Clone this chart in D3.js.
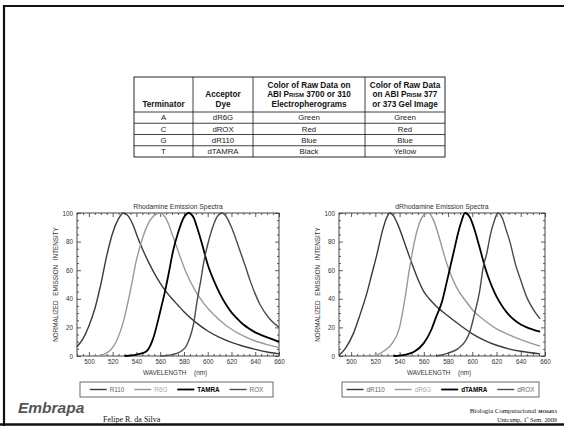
<!DOCTYPE html>
<html lang="pt">
<head>
<meta charset="UTF-8">
<title>Rhodamine / dRhodamine Emission Spectra</title>
<script src="https://d3js.org/d3.v7.min.js"></script>
<style>
  body { margin: 0; background: #fff; }
  svg { display: block; font-family: "Liberation Sans", Arial, sans-serif; }
  .tick text { font-size: 6.3px; fill: #333; }
  .serif { font-family: "Liberation Serif", "Times New Roman", serif; }
</style>
</head>
<body>
<svg id="slide" width="564" height="426"></svg>
<script>
// ---- dados ----
const tableHeader = [
  ["Terminator"],
  ["Acceptor", "Dye"],
  ["Color of Raw Data on", "ABI |Prism| 3700 or 310", "Electropherograms"],
  ["Color of Raw Data", "on ABI |Prism| 377", "or 373 Gel Image"]
];
const tableRows = [
  ["A", "dR6G", "Green", "Green"],
  ["C", "dROX", "Red", "Red"],
  ["G", "dR110", "Blue", "Blue"],
  ["T", "dTAMRA", "Black", "Yellow"]
];

const wavelengthTicks = [500, 520, 540, 560, 580, 600, 620, 640, 660];
const intensityTicks = [0, 20, 40, 60, 80, 100];

// Rhodamine (wavelength nm, normalized intensity)
const r110 = [[490,6.5],[495,12],[500,21],[505,33],[510,50],[515,70],[520,86],[525,96],[529,100],[533,98],[537,92],[541,83],[545,75],[550,66],[555,58],[560,51],[565,45],[570,40],[575,35.5],[580,31],[590,23.5],[600,17.5],[610,13],[620,9.5],[630,6.8],[640,4.6],[650,2.8],[660,1.5]];
const r6g = [[505,0],[512,1],[518,4],[523,10],[529,24],[535,46],[540,67],[545,82],[549,91],[554,97.5],[560,100],[565,96],[571,83],[577,69],[582,58],[590,45],[597,36.5],[605,29],[616,21],[630,14],[640,10.5],[650,8],[660,6]];
const tamra = [[530,0],[540,1],[548,3],[554,12],[560,31],[564,45],[567,57],[571,74],[575,86],[580,97],[584,100],[588,97],[591,90],[595,79],[600,64],[605,53],[610,44],[615,36.5],[620,30.5],[625,26],[630,22],[635,19],[640,16.5],[650,13],[660,10]];
const rox = [[560,0],[570,1],[577,3],[582,7],[585,13],[588,22],[591,38],[594,52],[597,67],[600,78],[605,92],[608,97.5],[612,100],[616,97],[620,90],[627,74],[632,62],[636,52],[644,36],[652,26],[660,20]];

// dRhodamine
const dr110 = [[490,0.5],[495,5],[502,16],[507,28],[513,44],[517,57],[521,70],[526,88],[529,96],[532,100],[535,98],[539,91],[545,77],[550,65],[555,54],[560,45],[565,39.5],[570,35],[580,28],[590,21.5],[600,15.5],[610,11],[620,7.5],[630,5],[640,3.3],[656,1.5]];
const dr6g = [[515,0],[522,1],[528,4],[534,9],[540,20],[544,38],[548,60],[552,79],[556,92],[560,98.5],[564,100],[568,95],[573,82],[577,70],[580,62],[587,48],[595,38],[601,31.5],[610,25],[620,19],[630,15],[640,11.5],[650,8.5],[656,7]];
const dtamra = [[535,0],[545,1],[552,3],[560,9],[566,18],[570,27],[575,38],[579,52],[582,63],[585,74],[588,85],[591,94],[594,100],[598,97],[602,88],[606,76],[612,58],[616,49],[620,41.5],[625,34.5],[630,29],[635,25],[640,22],[645,20],[650,18.5],[656,17]];
const drox = [[570,0],[580,2],[588,5],[594,10],[598,17],[602,30],[606,45],[609,62],[612,72],[615,85],[618,94],[621,100],[625,96],[628,88],[631,80],[636,63],[640,53],[645,41],[650,33],[656,26]];

const svg = d3.select("#slide");

// moldura do slide
svg.append("path")
  .attr("d", "M4,426 V6 H564")
  .attr("fill", "none").attr("stroke", "#111").attr("stroke-width", 2.2);
svg.append("line")
  .attr("x1", 0).attr("x2", 564).attr("y1", 424.5).attr("y2", 424.5)
  .attr("stroke", "#111").attr("stroke-width", 2.5);

// ---- tabela ----
const colEdges = [134, 193, 253, 365, 445];
const tableTop = 77, headerBottom = 112, rowH = 11.25;
const tg = svg.append("g");

tableHeader.forEach((lines, c) => {
  const cx = (colEdges[c] + colEdges[c + 1]) / 2;
  lines.forEach((ln, i) => {
    const t = tg.append("text")
      .attr("x", cx)
      .attr("y", 106.5 - (lines.length - 1 - i) * 9.3)
      .attr("text-anchor", "middle")
      .attr("font-size", 8.2).attr("font-weight", "bold").attr("fill", "#111");
    ln.split("|").forEach((part, k) => {
      const s = t.append("tspan").text(part);
      if (k % 2 === 1) s.style("font-variant", "small-caps");
    });
  });
});

tableRows.forEach((row, r) => {
  const cy = headerBottom + rowH * r + rowH / 2;
  row.forEach((val, c) => {
    tg.append("text")
      .attr("x", (colEdges[c] + colEdges[c + 1]) / 2)
      .attr("y", cy + 2.8)
      .attr("text-anchor", "middle")
      .attr("font-size", 7.8).attr("fill", "#222")
      .text(val);
  });
});

const tableBottom = headerBottom + rowH * tableRows.length;
tg.append("rect")
  .attr("x", colEdges[0]).attr("y", tableTop)
  .attr("width", colEdges[4] - colEdges[0]).attr("height", tableBottom - tableTop)
  .attr("fill", "none").attr("stroke", "#111").attr("stroke-width", 0.9);
colEdges.slice(1, 4).forEach(x => {
  tg.append("line").attr("x1", x).attr("x2", x).attr("y1", tableTop).attr("y2", tableBottom)
    .attr("stroke", "#111").attr("stroke-width", 0.8);
});
d3.range(tableRows.length).forEach(r => {
  const y = headerBottom + rowH * r;
  tg.append("line").attr("x1", colEdges[0]).attr("x2", colEdges[4]).attr("y1", y).attr("y2", y)
    .attr("stroke", "#111").attr("stroke-width", 0.8);
});

// ---- graficos ----
function drawSpectra(cfg) {
  const x = d3.scaleLinear().domain([490, 660]).range([cfg.left, cfg.right]);
  const y = d3.scaleLinear().domain([0, 100]).range([356, 213]);
  const g = svg.append("g");

  const minorX = d3.range(490, 661, 5).filter(v => !wavelengthTicks.includes(v));
  const minorY = d3.range(0, 101, 5).filter(v => !intensityTicks.includes(v));

  const axes = [
    [d3.axisBottom(x).tickValues(wavelengthTicks).tickSize(-4).tickPadding(4), `translate(0,${y(0)})`],
    [d3.axisBottom(x).tickValues(minorX).tickSize(-2).tickFormat(""), `translate(0,${y(0)})`],
    [d3.axisTop(x).tickValues(wavelengthTicks).tickSize(-4).tickFormat(""), `translate(0,${y(100)})`],
    [d3.axisTop(x).tickValues(minorX).tickSize(-2).tickFormat(""), `translate(0,${y(100)})`],
    [d3.axisLeft(y).tickValues(intensityTicks).tickSize(-4).tickPadding(4), `translate(${cfg.left},0)`],
    [d3.axisLeft(y).tickValues(minorY).tickSize(-2).tickFormat(""), `translate(${cfg.left},0)`],
    [d3.axisRight(y).tickValues(intensityTicks).tickSize(-4).tickFormat(""), `translate(${cfg.right},0)`],
    [d3.axisRight(y).tickValues(minorY).tickSize(-2).tickFormat(""), `translate(${cfg.right},0)`]
  ];
  axes.forEach(([ax, tr]) => {
    const a = g.append("g").attr("transform", tr).call(ax);
    a.select(".domain").remove();
    a.selectAll(".tick line").attr("stroke", "#333").attr("stroke-width", 0.8);
  });

  g.append("rect")
    .attr("x", cfg.left).attr("y", y(100))
    .attr("width", cfg.right - cfg.left).attr("height", y(0) - y(100))
    .attr("fill", "none").attr("stroke", "#333").attr("stroke-width", 0.9);

  const line = d3.line().x(d => x(d[0])).y(d => y(d[1])).curve(d3.curveMonotoneX);
  cfg.series.forEach(s => {
    g.append("path").datum(s.data)
      .attr("d", line)
      .attr("fill", "none")
      .attr("stroke", s.color)
      .attr("stroke-width", s.width)
      .attr("stroke-linejoin", "round");
  });

  const mid = (cfg.left + cfg.right) / 2;
  g.append("text").attr("x", mid).attr("y", 209)
    .attr("text-anchor", "middle").attr("font-size", 6.8).attr("fill", "#333")
    .text(cfg.title);
  g.append("text").attr("x", mid - 3).attr("y", 375)
    .attr("text-anchor", "middle").attr("font-size", 6.3).attr("fill", "#333")
    .attr("word-spacing", 6)
    .text("WAVELENGTH (nm)");
  g.append("text")
    .attr("transform", `translate(${cfg.left - 19},${(y(0) + y(100)) / 2}) rotate(-90)`)
    .attr("text-anchor", "middle").attr("font-size", 6.3).attr("fill", "#333")
    .attr("word-spacing", 3)
    .text("NORMALIZED EMISSION INTENSITY");

  // legenda
  const lx0 = cfg.left + 3, lx1 = cfg.right - 6, ly0 = 382, ly1 = 397;
  g.append("rect").attr("x", lx0).attr("y", ly0).attr("width", lx1 - lx0).attr("height", ly1 - ly0)
    .attr("fill", "none").attr("stroke", "#444").attr("stroke-width", 0.8);
  const row = g.append("g");
  let cx = 0;
  cfg.series.forEach(s => {
    row.append("line").attr("x1", cx).attr("x2", cx + 17).attr("y1", 0).attr("y2", 0)
      .attr("stroke", s.color).attr("stroke-width", s.width);
    const t = row.append("text").attr("x", cx + 20).attr("y", 2.2)
      .attr("font-size", 6.3).attr("fill", s.text)
      .attr("font-weight", s.bold ? "bold" : "normal")
      .text(s.name);
    cx += 20 + t.node().getComputedTextLength() + 10;
  });
  const w = cx - 10;
  row.attr("transform", `translate(${(lx0 + lx1) / 2 - w / 2},${(ly0 + ly1) / 2})`);
}

drawSpectra({
  left: 77, right: 279, title: "Rhodamine Emission Spectra",
  series: [
    { name: "R110", data: r110, color: "#3a3a3a", width: 1.4, text: "#666" },
    { name: "R6G", data: r6g, color: "#999", width: 1.4, text: "#aaa" },
    { name: "TAMRA", data: tamra, color: "#000", width: 1.8, text: "#000", bold: true },
    { name: "ROX", data: rox, color: "#4a4a4a", width: 1.4, text: "#666" }
  ]
});
drawSpectra({
  left: 339, right: 545, title: "dRhodamine Emission Spectra",
  series: [
    { name: "dR110", data: dr110, color: "#3a3a3a", width: 1.4, text: "#666" },
    { name: "dR6G", data: dr6g, color: "#999", width: 1.4, text: "#aaa" },
    { name: "dTAMRA", data: dtamra, color: "#000", width: 1.8, text: "#000", bold: true },
    { name: "dROX", data: drox, color: "#4a4a4a", width: 1.4, text: "#666" }
  ]
});

// ---- rodape ----
svg.append("text").attr("x", 18).attr("y", 413)
  .attr("font-size", 15.5).attr("font-weight", "bold").attr("font-style", "italic")
  .attr("fill", "#555").text("Embrapa");
svg.append("text").attr("class", "serif").attr("x", 103).attr("y", 422)
  .attr("font-size", 8).attr("fill", "#111").text("Felipe R. da Silva");
const f1 = svg.append("text").attr("class", "serif").attr("x", 557).attr("y", 413)
  .attr("text-anchor", "end").attr("font-size", 6.8).attr("fill", "#111");
f1.append("tspan").text("Biologia Computacional ");
f1.append("tspan").attr("font-size", 5).attr("font-weight", "bold").attr("font-style", "italic").text("MO640A");
svg.append("text").attr("class", "serif").attr("x", 557).attr("y", 422)
  .attr("text-anchor", "end").attr("font-size", 6.3).attr("fill", "#111")
  .text("Unicamp, 1º Sem. 2009");
</script>
</body>
</html>
